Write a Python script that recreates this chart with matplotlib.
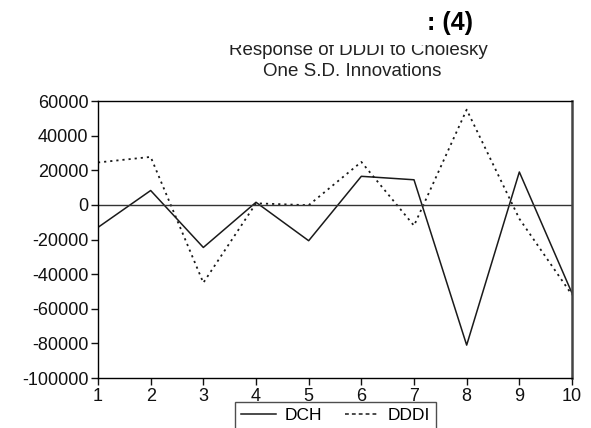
import matplotlib
matplotlib.use('Agg')
import matplotlib.pyplot as plt
from matplotlib.patches import Rectangle
from matplotlib.lines import Line2D

periods = [1, 2, 3, 4, 5, 6, 7, 8, 9, 10]
dch = [-13000, 8300, -24600, 1500, -20700, 16500, 14500, -81000, 19000, -51000]
dddi = [24500, 27700, -45000, 900, -200, 24800, -12000, 55000, -8000, -52000]

y_ticks = [60000, 40000, 20000, 0, -20000, -40000, -60000, -80000, -100000]
title_lines = ['Response of DDDI to Cholesky', 'One S.D. Innovations']
series_names = ['DCH', 'DDDI']

plt.rcParams['font.family'] = ['Liberation Sans', 'DejaVu Sans']
plt.rcParams['axes.unicode_minus'] = False

fig = plt.figure(figsize=(5.91, 4.28), dpi=100)
ax = fig.add_axes([98 / 591, 1 - 378 / 428, 474 / 591, 277 / 428])

ax.plot(periods, dch, color='#1a1a1a', lw=1.1)
ax.plot(periods, dddi, color='#1a1a1a', lw=1.3, linestyle=(0, (1.2, 2.2)))
ax.axhline(0, color='#333333', lw=1.0)

ax.set_xlim(1, 10)
ax.set_ylim(-100000, 60000)
ax.set_xticks(periods)
ax.set_yticks(y_ticks)
ax.set_yticklabels([str(v) for v in y_ticks])
ax.tick_params(axis='both', direction='out', length=5, width=1, labelsize=13, pad=2, colors='#111111')
for side in ['left', 'bottom', 'top']:
    ax.spines[side].set_linewidth(1.0)
ax.spines['right'].set_linewidth(1.8)
ax.spines['right'].set_color('#444444')

# title, top half hidden like in the scanned picture
fig.text(358 / 591, 1 - 55 / 428, title_lines[0], ha='center', va='baseline', fontsize=13.5, color='#222222')
fig.text(352 / 591, 1 - 76 / 428, title_lines[1], ha='center', va='baseline', fontsize=13.5, color='#222222')
fig.add_artist(Rectangle((0, 1 - 45 / 428), 1, 10 / 428, transform=fig.transFigure,
                         facecolor='white', edgecolor='none', zorder=10))

fig.text(450 / 591, 1 - 23 / 428, ': (4)', ha='center', va='center', fontsize=18, fontweight='bold',
         color='black', zorder=11)

handles = [Line2D([], [], color='#1a1a1a', lw=1.1),
           Line2D([], [], color='#1a1a1a', lw=1.1, linestyle=(0, (2.5, 2)))]
leg = fig.legend(handles, series_names, loc='upper left', bbox_to_anchor=(235 / 591, 1 - 402 / 428),
                 ncol=2, fontsize=12.5, frameon=True, fancybox=False, handlelength=2.0,
                 columnspacing=1.3, handletextpad=0.5, borderpad=0.35, borderaxespad=0)
leg.get_frame().set_edgecolor('#222222')
leg.get_frame().set_linewidth(1.0)

fig.savefig('out.png', dpi=100)
